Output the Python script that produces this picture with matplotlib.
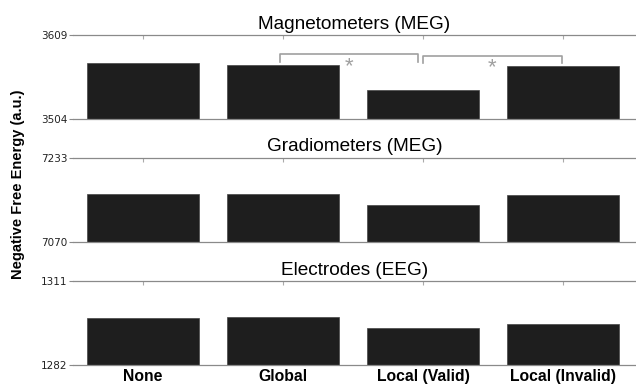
import matplotlib.pyplot as plt

plt.rcParams['font.family'] = ['Liberation Sans', 'DejaVu Sans']

conditions = ['None', 'Global', 'Local (Valid)', 'Local (Invalid)']
titles = ['Magnetometers (MEG)', 'Gradiometers (MEG)', 'Electrodes (EEG)']

# negative free energy per condition, one list per sensor type
mag_vals = [3574, 3572, 3540, 3570]
grad_vals = [7162.5, 7162, 7141.5, 7160.5]
eeg_vals = [1298.3, 1298.5, 1294.8, 1296.0]
all_vals = [mag_vals, grad_vals, eeg_vals]

# y range shown for each panel (only min/max are labelled)
y_ranges = [(3504, 3609), (7070, 7233), (1282, 1311)]

# significance brackets on the magnetometer panel: (x1, x2, top, leg bottom)
brackets = [(1.98, 2.96, 3585.3, 3575), (3.0, 3.99, 3582.8, 3574)]

fig = plt.figure(figsize=(6.36, 3.84), dpi=100)

bottoms = [0.690, 0.3706, 0.0495]
h = 0.2188
x = [1, 2, 3, 4]
spine_col = '#8a8a8a'

for i in range(3):
    ax = fig.add_axes([0.1148, bottoms[i], 0.8852, h])
    lo, hi = y_ranges[i]
    ax.bar(x, [v - lo for v in all_vals[i]], bottom=lo, width=0.8,
           color='#1e1e1e', edgecolor='#444444', linewidth=0.5)
    ax.set_xlim(0.5, 4.52)
    ax.set_ylim(lo, hi)
    ax.set_yticks([lo, hi])
    ax.set_yticklabels([str(lo), str(hi)], fontsize=7.5, color='#222222',
                       family='DejaVu Sans')
    ax.set_xticks(x)
    if i == 2:
        ax.set_xticklabels(conditions, fontsize=11.3, fontweight='bold')
    else:
        ax.set_xticklabels([])
    ax.tick_params(axis='x', top=True, bottom=False, direction='in',
                   length=3, color='#aaaaaa', pad=3)
    ax.tick_params(axis='y', direction='out', length=3, color=spine_col, pad=1)
    ax.spines['left'].set_visible(False)
    ax.spines['right'].set_visible(False)
    for s in ['top', 'bottom']:
        ax.spines[s].set_color(spine_col)
        ax.spines[s].set_linewidth(0.9)
    ax.set_title(titles[i], fontsize=13.7, pad=4.5)

    if i == 0:
        for x1, x2, top, leg in brackets:
            ax.plot([x1, x1, x2, x2], [leg, top, top, leg],
                    color='#a0a0a0', lw=1.2)
            ax.text((x1 + x2) / 2, leg - 6, '*', ha='center', va='center',
                    fontsize=16, color='#a0a0a0')

fig.text(0.028, 0.52, 'Negative Free Energy (a.u.)', rotation=90,
         ha='center', va='center', fontsize=10.5, fontweight='bold')

fig.savefig('out.png', dpi=100)
